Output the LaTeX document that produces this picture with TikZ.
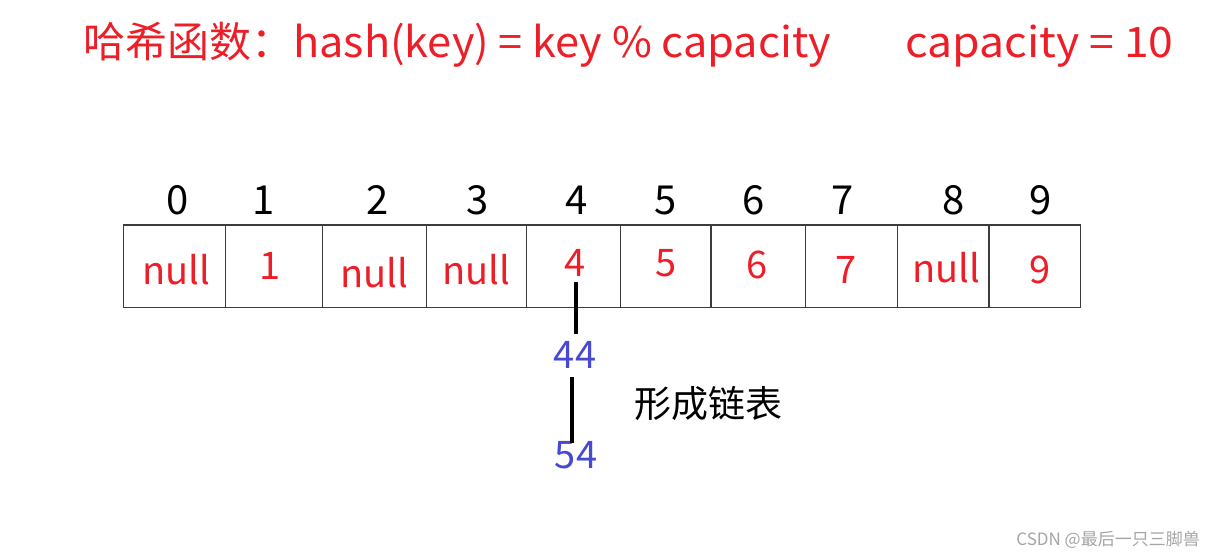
\documentclass[tikz,border=0pt]{standalone}
\usepackage{fontspec}
\setmainfont{Noto Sans CJK SC}
\definecolor{hred}{RGB}{238,30,40}
\definecolor{hblue}{RGB}{72,72,208}
\definecolor{cellline}{RGB}{60,60,60}
\definecolor{wm}{RGB}{165,165,165}
\begin{document}
\begin{tikzpicture}[x=1pt,y=-1pt,
  cell/.style={draw=cellline,line width=1.4pt,inner sep=0pt,minimum height=82.7pt},
  idx/.style={inner sep=0pt,font=\fontsize{40}{40}\selectfont},
  val/.style={inner sep=0pt,text=hred,font=\fontsize{38}{38}\selectfont},
  chain/.style={inner sep=0pt,text=hblue,font=\fontsize{38}{38}\selectfont},
  link/.style={line width=4pt},
  title/.style={inner sep=0pt,anchor=base west,text=hred,font=\fontsize{42}{42}\selectfont}]
\useasboundingbox[fill=white] (0,0) rectangle (1216,557);
% title
\node[title] (t1) at (83,57) {哈希函数：\scalebox{1.03}[1]{hash(key) = key \% capacity}};
\node[title] (t2) at (905,57) {\scalebox{1.06}[1]{capacity = 10}};
% cells
\node[cell,minimum width=101.8pt] (c0) at (174.4,266.35) {};
\node[cell,minimum width=97pt]    (c1) at (273.8,266.35) {};
\node[cell,minimum width=104.4pt] (c2) at (374.5,266.35) {};
\node[cell,minimum width=100pt]   (c3) at (476.7,266.35) {};
\node[cell,minimum width=94pt]    (c4) at (573.7,266.35) {};
\node[cell,minimum width=90.3pt]  (c5) at (665.85,266.35) {};
\node[cell,minimum width=94.7pt]  (c6) at (758.35,266.35) {};
\node[cell,minimum width=91.6pt]  (c7) at (851.5,266.35) {};
\node[cell,minimum width=91.7pt]  (c8) at (943.15,266.35) {};
\node[cell,minimum width=91.7pt]  (c9) at (1034.85,266.35) {};
% indices
\node[idx] (i0) at (178,200) {0};
\node[idx] (i1) at (264,200) {1};
\node[idx] (i2) at (378,200) {2};
\node[idx] (i3) at (478,200) {3};
\node[idx] (i4) at (577,200) {4};
\node[idx] (i5) at (666,200) {5};
\node[idx] (i6) at (754,200) {6};
\node[idx] (i7) at (843,200) {7};
\node[idx] (i8) at (954,200) {8};
\node[idx] (i9) at (1041,200) {9};
% values
\node[val] (v0) at (176,270) {null};
\node[val] (v1) at (270,266) {1};
\node[val] (v2) at (374,273) {null};
\node[val] (v3) at (476,270) {null};
\node[val] (v4) at (575,263) {4};
\node[val] (v5) at (666,263) {5};
\node[val] (v6) at (757,265) {6};
\node[val] (v7) at (846,270) {7};
\node[val] (v8) at (946,268) {null};
\node[val] (v9) at (1040,270) {9};
% chain
\node[chain] (k44) at (575,355) {44};
\node[chain] (k54) at (576,455) {54};
\node[inner sep=0pt,font=\fontsize{37}{37}\selectfont] (lbl) at (708,404) {形成链表};
\coordinate (a1) at (575.5,282);
\coordinate (a2) at (575.5,334);
\coordinate (b1) at (572,377);
\coordinate (b2) at (572,443);
\draw[link] (a1) -- (a2);
\draw[link] (b1) -- (b2);
% watermark
\node[inner sep=0pt,text=wm,anchor=east,font=\fontsize{17}{17}\selectfont] (wmk) at (1200,540) {CSDN @最后一只三脚兽};
\end{tikzpicture}
\end{document}
